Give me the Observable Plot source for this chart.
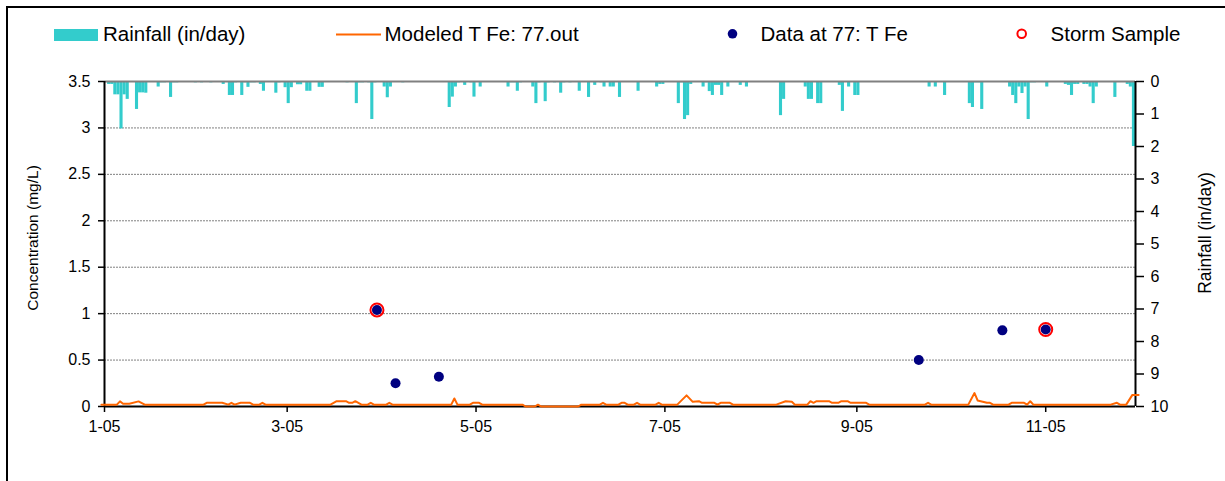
<!DOCTYPE html>
<html><head><meta charset="utf-8">
<script src="https://cdn.jsdelivr.net/npm/d3@7"></script>
<script src="https://cdn.jsdelivr.net/npm/@observablehq/plot@0.6"></script>
<style>
html,body{margin:0;padding:0;background:#fff;}
#wrap{position:relative;width:1225px;height:481px;overflow:hidden;font-family:"Liberation Sans",Arial,sans-serif;}
#frame{position:absolute;left:6px;top:6px;width:1240px;height:500px;border:2px solid #000;box-sizing:border-box;pointer-events:none;}
svg{display:block;}
</style></head><body>
<div id="wrap"><div id="legend"></div><div id="chart"></div><div id="frame"></div></div>
<script>
// ---------- data ----------
const legendLabels = ["Rainfall (in/day)", "Modeled T Fe: 77.out", "Data at 77: T Fe", "Storm Sample"];
const concTicks = [0, 0.5, 1, 1.5, 2, 2.5, 3, 3.5];
const gridValues = [0.5, 1, 1.5, 2, 2.5, 3];
const rainTicks = [0, 1, 2, 3, 4, 5, 6, 7, 8, 9, 10];
const xTickDates = ["2005-01-01", "2005-03-01", "2005-05-01", "2005-07-01", "2005-09-01", "2005-11-01"];
const xTickLabels = ["1-05", "3-05", "5-05", "7-05", "9-05", "11-05"];
const xDomain = ["2005-01-01", "2005-11-30"];
const concMax = 3.5, rainMax = 10;

// daily rainfall (in/day)
const rainDates = [
 "2005-01-02","2005-01-03","2005-01-04","2005-01-05","2005-01-06","2005-01-07","2005-01-08","2005-01-11","2005-01-12","2005-01-13",
 "2005-01-14","2005-01-18","2005-01-19","2005-01-20","2005-01-22","2005-01-23","2005-01-24","2005-01-30","2005-02-01","2005-02-04",
 "2005-02-08","2005-02-10","2005-02-11","2005-02-12","2005-02-14","2005-02-15","2005-02-16","2005-02-17","2005-02-18","2005-02-20",
 "2005-02-21","2005-02-25","2005-02-26","2005-02-28","2005-03-01","2005-03-02","2005-03-04","2005-03-05","2005-03-07","2005-03-08",
 "2005-03-11","2005-03-12","2005-03-20","2005-03-23","2005-03-24","2005-03-25","2005-03-27","2005-03-28","2005-03-29","2005-04-01",
 "2005-04-02","2005-04-03","2005-04-07","2005-04-22","2005-04-23","2005-04-24","2005-04-25","2005-04-27","2005-04-29","2005-04-30",
 "2005-05-02","2005-05-11","2005-05-12","2005-05-13","2005-05-14","2005-05-15","2005-05-19","2005-05-20","2005-05-21","2005-05-23",
 "2005-05-24","2005-05-26","2005-05-28","2005-05-29","2005-05-31","2005-06-03","2005-06-06","2005-06-08","2005-06-10","2005-06-11",
 "2005-06-13","2005-06-14","2005-06-16","2005-06-22","2005-06-28","2005-06-29","2005-06-30","2005-07-05","2005-07-06","2005-07-07",
 "2005-07-08","2005-07-09","2005-07-13","2005-07-14","2005-07-15","2005-07-16","2005-07-17","2005-07-18","2005-07-19","2005-07-21",
 "2005-07-25","2005-07-27","2005-08-07","2005-08-08","2005-08-15","2005-08-16","2005-08-17","2005-08-19","2005-08-20","2005-08-26",
 "2005-08-27","2005-08-29","2005-08-31","2005-09-01","2005-09-24","2005-09-26","2005-09-29","2005-10-07","2005-10-08","2005-10-09",
 "2005-10-10","2005-10-11","2005-10-20","2005-10-21","2005-10-22","2005-10-23","2005-10-24","2005-10-25","2005-10-26","2005-10-27",
 "2005-10-28","2005-11-01","2005-11-07","2005-11-08","2005-11-09","2005-11-10","2005-11-11","2005-11-13","2005-11-14","2005-11-15",
 "2005-11-16","2005-11-17","2005-11-23","2005-11-27","2005-11-28","2005-11-29"];
const rainValues = [
 0.09,0.09,0.41,0.41,1.46,0.41,0.55,0.86,0.35,0.35,
 0.36,0.17,0.04,0.04,0.49,0.04,0.04,0.04,0.04,0.04,
 0.09,0.43,0.43,0.04,0.43,0.04,0.18,0.04,0.04,0.09,
 0.30,0.36,0.04,0.19,0.68,0.19,0.10,0.10,0.30,0.30,
 0.18,0.18,0.04,0.68,0.04,0.04,0.04,1.17,0.04,0.17,
 0.50,0.17,0.04,0.80,0.48,0.17,0.04,0.12,0.04,0.48,
 0.17,0.17,0.04,0.04,0.30,0.04,0.17,0.68,0.04,0.62,
 0.04,0.04,0.36,0.04,0.04,0.30,0.49,0.12,0.04,0.17,
 0.17,0.17,0.49,0.30,0.17,0.09,0.09,0.68,0.04,1.17,
 1.05,0.09,0.17,0.04,0.31,0.43,0.12,0.12,0.43,0.17,
 0.12,0.17,1.05,0.55,0.17,0.55,0.55,0.68,0.68,0.12,
 0.92,0.17,0.43,0.43,0.17,0.17,0.43,0.68,0.80,0.04,
 0.04,0.86,0.17,0.43,0.68,0.17,0.37,0.17,1.17,0.04,
 0.04,0.17,0.09,0.12,0.43,0.09,0.09,0.09,0.09,0.17,
 0.68,0.17,0.49,0.09,0.17,2.00];

// modeled total Fe (mg/L), vertices of the daily series
const modelDates = [
 "2004-12-31","2005-01-05","2005-01-06","2005-01-07","2005-01-09","2005-01-12","2005-01-14","2005-02-02","2005-02-03","2005-02-08",
 "2005-02-10","2005-02-11","2005-02-12","2005-02-14","2005-02-17","2005-02-18","2005-02-20","2005-02-21","2005-02-22","2005-03-15",
 "2005-03-17","2005-03-20","2005-03-21","2005-03-22","2005-03-23","2005-03-25","2005-03-27","2005-03-28","2005-03-29","2005-04-02",
 "2005-04-03","2005-04-04","2005-04-23","2005-04-24","2005-04-25","2005-04-29","2005-04-30","2005-05-02","2005-05-03","2005-05-16",
 "2005-05-17","2005-05-20","2005-05-21","2005-05-22","2005-06-03","2005-06-04","2005-06-10","2005-06-11","2005-06-12","2005-06-16",
 "2005-06-17","2005-06-18","2005-06-19","2005-06-21","2005-06-22","2005-06-23","2005-06-28","2005-06-29","2005-06-30","2005-07-05",
 "2005-07-08","2005-07-10","2005-07-12","2005-07-13","2005-07-17","2005-07-18","2005-07-19","2005-07-22","2005-07-23","2005-08-06",
 "2005-08-09","2005-08-11","2005-08-12","2005-08-16","2005-08-17","2005-08-18","2005-08-19","2005-08-23","2005-08-24","2005-08-26",
 "2005-08-27","2005-08-29","2005-08-30","2005-09-04","2005-09-05","2005-09-23","2005-09-24","2005-09-25","2005-10-07","2005-10-09",
 "2005-10-10","2005-10-11","2005-10-13","2005-10-14","2005-10-15","2005-10-20","2005-10-21","2005-10-25","2005-10-26","2005-10-27",
 "2005-10-28","2005-11-22","2005-11-24","2005-11-25","2005-11-27","2005-11-29","2005-12-01"];
const modelValues = [
 0.02,0.02,0.055,0.03,0.03,0.055,0.02,0.02,0.04,0.04,
 0.02,0.04,0.02,0.04,0.04,0.02,0.02,0.04,0.02,0.02,
 0.057,0.057,0.04,0.04,0.057,0.02,0.02,0.04,0.02,0.02,
 0.04,0.02,0.02,0.086,0.02,0.02,0.04,0.04,0.02,0.02,
 0,0,0.02,0,0,0.02,0.02,0.04,0.02,0.02,
 0.04,0.04,0.02,0.02,0.04,0.02,0.02,0.04,0.02,0.02,
 0.12,0.05,0.057,0.04,0.04,0.02,0.04,0.04,0.02,0.02,
 0.057,0.05,0.02,0.02,0.057,0.04,0.057,0.057,0.04,0.04,
 0.057,0.057,0.04,0.04,0.02,0.02,0.04,0.02,0.02,0.145,
 0.065,0.057,0.04,0.04,0.02,0.02,0.04,0.04,0.02,0.057,
 0.02,0.02,0.04,0.02,0.02,0.125,0.125];

// observed total Fe (mg/L)
const obsDates = ["2005-03-30","2005-04-05","2005-04-19","2005-09-21","2005-10-18","2005-11-01"];
const obsValues = [1.04, 0.25, 0.32, 0.50, 0.82, 0.83];
// storm samples
const stormDates = ["2005-03-30","2005-11-01"];
const stormValues = [1.04, 0.83];

// ---------- colours ----------
const teal = "#33CCCC", orange = "#FF6600", navy = "#000080", red = "#FF0000";
const font = '"Liberation Sans", Arial, sans-serif';

const P = s => new Date(s + "T00:00:00Z");
const rainToY = r => concMax - r * (concMax / rainMax);

const rain = rainDates.map((d, i) => ({date: P(d), next: d3.utcDay.offset(P(d), 1), value: rainValues[i]}));
const model = modelDates.map((d, i) => ({date: P(d), value: modelValues[i]}));
const obs = obsDates.map((d, i) => ({date: P(d), value: obsValues[i]}));
const storm = stormDates.map((d, i) => ({date: P(d), value: stormValues[i]}));
const xTicks = xTickDates.map(P);
const rainTickPos = rainTicks.map(rainToY);
const xStart = P(xDomain[0]), xEnd = P(xDomain[1]);

// ---------- legend ----------
const leg = d3.select("#legend").append("svg")
  .attr("width", 1225).attr("height", 60)
  .style("font-family", font).style("font-size", "20.5px");
leg.append("rect").attr("x", 54).attr("y", 29).attr("width", 44).attr("height", 12).attr("fill", teal);
leg.append("text").attr("x", 103).attr("y", 41).text(legendLabels[0]);
leg.append("line").attr("x1", 336).attr("x2", 381).attr("y1", 34.5).attr("y2", 34.5).attr("stroke", orange).attr("stroke-width", 2);
leg.append("text").attr("x", 384.5).attr("y", 41).text(legendLabels[1]);
leg.append("circle").attr("cx", 732.5).attr("cy", 33.8).attr("r", 4.8).attr("fill", navy);
leg.append("text").attr("x", 760.5).attr("y", 41).text(legendLabels[2]);
leg.append("circle").attr("cx", 1021.7).attr("cy", 33.8).attr("r", 4.3).attr("fill", "none").attr("stroke", red).attr("stroke-width", 2);
leg.append("text").attr("x", 1050.6).attr("y", 41).text(legendLabels[3]);

// ---------- chart ----------
const chart = Plot.plot({
  width: 1225, height: 421,
  marginTop: 21, marginBottom: 75, marginLeft: 104, marginRight: 90,
  x: {type: "utc", domain: [xStart, xEnd]},
  y: {domain: [0, concMax]},
  style: {fontFamily: font, fontSize: "16px", color: "black", background: "white", overflow: "visible"},
  marks: [
    Plot.ruleY(gridValues, {stroke: "#808080", strokeWidth: 1, strokeDasharray: "2,1"}),
    Plot.rect(rain, {x1: "date", x2: "next", y1: () => concMax, y2: d => rainToY(d.value), fill: teal}),
    Plot.ruleY([concMax], {stroke: "#808080", strokeWidth: 2}),
    Plot.axisY({anchor: "left", ticks: concTicks, tickFormat: d => String(d), tickSize: 6, tickPadding: 8, strokeWidth: 1.5, label: null}),
    Plot.axisY({anchor: "right", ticks: rainTickPos, tickFormat: v => String(rainTicks[rainTickPos.indexOf(v)]), tickSize: 8, tickPadding: 7, strokeWidth: 1.5, label: null}),
    Plot.axisX({ticks: xTicks, tickFormat: d => xTickLabels[xTicks.findIndex(t => +t === +d)], tickSize: 6, tickPadding: 8, strokeWidth: 1.5, label: null}),
    Plot.ruleX([xStart], {stroke: "black", strokeWidth: 2}),
    Plot.ruleX([xEnd], {stroke: "black", strokeWidth: 2}),
    Plot.ruleY([0], {stroke: "black", strokeWidth: 2}),
    Plot.line(model, {x: "date", y: "value", stroke: orange, strokeWidth: 2}),
    Plot.dot(obs, {x: "date", y: "value", r: 5, fill: navy}),
    Plot.dot(storm, {x: "date", y: "value", r: 6.5, stroke: red, strokeWidth: 2, fill: "none"}),
    Plot.text(["Concentration (mg/L)"], {text: d => d, frameAnchor: "left", textAnchor: "middle", dx: -71, dy: -6, rotate: -90, fontSize: 15.5}),
    Plot.text(["Rainfall (in/day)"], {text: d => d, frameAnchor: "right", textAnchor: "middle", dx: 70, dy: -11, rotate: -90, fontSize: 17.5})
  ]
});
document.getElementById("chart").appendChild(chart);
</script>
</body></html>
